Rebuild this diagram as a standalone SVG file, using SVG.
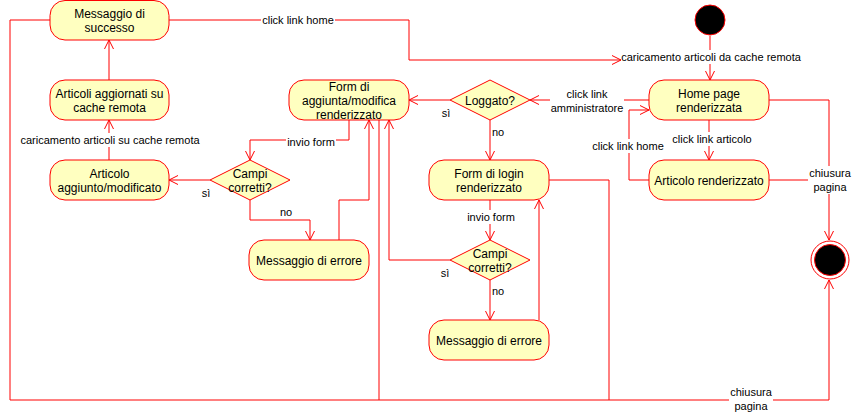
<svg xmlns="http://www.w3.org/2000/svg" width="852" height="413" viewBox="0 0 852 413">
<style>
.n{fill:#FFFFC0;stroke:#FF0000;stroke-width:1}
.t{font-family:"Liberation Sans",Arial,sans-serif;font-size:12px;fill:#000;text-anchor:middle}
.l{font-family:"Liberation Sans",Arial,sans-serif;font-size:11px;fill:#000;text-anchor:middle}
.e{fill:none;stroke:#FF0000;stroke-width:1}
.bg{fill:#fff;stroke:none}
</style>
<defs>
<marker id="a" markerUnits="userSpaceOnUse" markerWidth="12" markerHeight="12" refX="9" refY="5" orient="auto" viewBox="0 0 12 10">
<path d="M0,0.5 L9,5 L0,9.5" fill="none" stroke="#FF0000" stroke-width="1"/>
</marker>
</defs>
<rect width="852" height="413" fill="#fff"/>
<g id="connectors">
<path class="e" d="M710,36 L710,80" marker-end="url(#a)"/>
<path class="e" d="M169,20 L409,20 L409,60 L621,60" marker-end="url(#a)"/>
<path class="e" d="M649,100 L530,100" marker-end="url(#a)"/>
<path class="e" d="M450,100 L409,100" marker-end="url(#a)"/>
<path class="e" d="M490,120 L490,160" marker-end="url(#a)"/>
<path class="e" d="M709,120 L709,160" marker-end="url(#a)"/>
<path class="e" d="M649,180 L629,180 L629,110 L649,110" marker-end="url(#a)"/>
<path class="e" d="M769,100 L829,100 L829,240" marker-end="url(#a)"/>
<path class="e" d="M769,180 L829,180"/>
<path class="e" d="M50,20 L10,20 L10,400 L829,400 L829,280" marker-end="url(#a)"/>
<path class="e" d="M379,120 L379,400"/>
<path class="e" d="M549,180 L609,180 L609,400"/>
<path class="e" d="M349,120 L349,140 L250,140 L250,160" marker-end="url(#a)"/>
<path class="e" d="M210,180 L169,180" marker-end="url(#a)"/>
<path class="e" d="M250,200 L250,220 L310,220 L310,240" marker-end="url(#a)"/>
<path class="e" d="M339,240 L339,200 L369,200 L369,120" marker-end="url(#a)"/>
<path class="e" d="M109,160 L109,120" marker-end="url(#a)"/>
<path class="e" d="M109,80 L109,40" marker-end="url(#a)"/>
<path class="e" d="M490,200 L490,240" marker-end="url(#a)"/>
<path class="e" d="M450,260 L389,260 L389,120" marker-end="url(#a)"/>
<path class="e" d="M490,280 L490,320" marker-end="url(#a)"/>
<path class="e" d="M539,320 L539,200" marker-end="url(#a)"/>
<g id="edge-labels">
<rect class="bg" x="261" y="13" width="74" height="14"/>
<text class="l" x="298" y="24">click link home</text>
<rect class="bg" x="621" y="50" width="181" height="14"/>
<text class="l" x="711" y="61">caricamento articoli da cache remota</text>
<rect class="bg" x="550" y="87" width="74" height="28"/>
<text class="l" x="587" y="98">click link</text>
<text class="l" x="587" y="112">amministratore</text>
<text class="l" x="446" y="117">sì</text>
<text class="l" x="492" y="136" style="text-anchor:start">no</text>
<rect class="bg" x="672" y="132" width="81" height="14"/>
<text class="l" x="712" y="143">click link articolo</text>
<rect class="bg" x="592" y="139" width="73" height="14"/>
<text class="l" x="628" y="150">click link home</text>
<rect class="bg" x="808" y="166" width="44" height="28"/>
<text class="l" x="830" y="177">chiusura</text>
<text class="l" x="830" y="191">pagina</text>
<rect class="bg" x="729" y="385" width="44" height="28"/>
<text class="l" x="751" y="396">chiusura</text>
<text class="l" x="751" y="410">pagina</text>
<rect class="bg" x="286" y="135" width="50" height="14"/>
<text class="l" x="311" y="146">invio form</text>
<text class="l" x="206" y="197">sì</text>
<text class="l" x="286" y="216">no</text>
<rect class="bg" x="20" y="133" width="181" height="14"/>
<text class="l" x="110" y="144">caricamento articoli su cache remota</text>
<rect class="bg" x="466" y="210" width="50" height="14"/>
<text class="l" x="491" y="221">invio form</text>
<text class="l" x="445" y="277">sì</text>
<text class="l" x="492" y="295" style="text-anchor:start">no</text>
</g>
</g>
<g id="initial"><circle cx="710" cy="20" r="15" fill="#000" stroke="#FF0000"/></g>
<g id="final"><circle cx="830" cy="260" r="19" fill="#fff" stroke="#FF0000"/><circle cx="830" cy="260" r="15.5" fill="#000" stroke="#FF0000"/></g>
<g id="messaggio-successo"><rect class="n" x="50" y="0.5" width="119" height="39.5" rx="15"/><text class="t" x="109.5" y="18">Messaggio di</text><text class="t" x="109.5" y="32">successo</text></g>
<g id="articoli-aggiornati"><rect class="n" x="50" y="80" width="119" height="40" rx="15"/><text class="t" x="109.5" y="97.5">Articoli aggiornati su</text><text class="t" x="109.5" y="111.5">cache remota</text></g>
<g id="articolo-aggiunto"><rect class="n" x="50" y="160" width="119" height="40" rx="15"/><text class="t" x="109.5" y="177.5">Articolo</text><text class="t" x="109.5" y="191.5">aggiunto/modificato</text></g>
<g id="campi-corretti-1"><path class="n" d="M250,160 L290,180 L250,200 L210,180 Z"/><text class="t" x="250" y="177.5">Campi</text><text class="t" x="250" y="191.5">corretti?</text></g>
<g id="form-aggiunta"><rect class="n" x="289" y="80" width="120" height="40" rx="15"/><text class="t" x="349" y="90.5">Form di</text><text class="t" x="349" y="104.5">aggiunta/modifica</text><text class="t" x="349" y="118.5">renderizzato</text></g>
<g id="loggato"><path class="n" d="M490,80 L530,100 L490,120 L450,100 Z"/><text class="t" x="490" y="104.5">Loggato?</text></g>
<g id="form-login"><rect class="n" x="429" y="160" width="120" height="40" rx="15"/><text class="t" x="489" y="177.5">Form di login</text><text class="t" x="489" y="191.5">renderizzato</text></g>
<g id="messaggio-errore-1"><rect class="n" x="249" y="240" width="120" height="40" rx="15"/><text class="t" x="309" y="264.5">Messaggio di errore</text></g>
<g id="campi-corretti-2"><path class="n" d="M490,240 L530,260 L490,280 L450,260 Z"/><text class="t" x="490" y="257.5">Campi</text><text class="t" x="490" y="271.5">corretti?</text></g>
<g id="messaggio-errore-2"><rect class="n" x="429" y="320" width="120" height="40" rx="15"/><text class="t" x="489" y="344.5">Messaggio di errore</text></g>
<g id="home-page"><rect class="n" x="649" y="80" width="120" height="40" rx="15"/><text class="t" x="709" y="97.5">Home page</text><text class="t" x="709" y="111.5">renderizzata</text></g>
<g id="articolo-renderizzato"><rect class="n" x="649" y="160" width="120" height="40" rx="15"/><text class="t" x="709" y="184.5">Articolo renderizzato</text></g>
</svg>
